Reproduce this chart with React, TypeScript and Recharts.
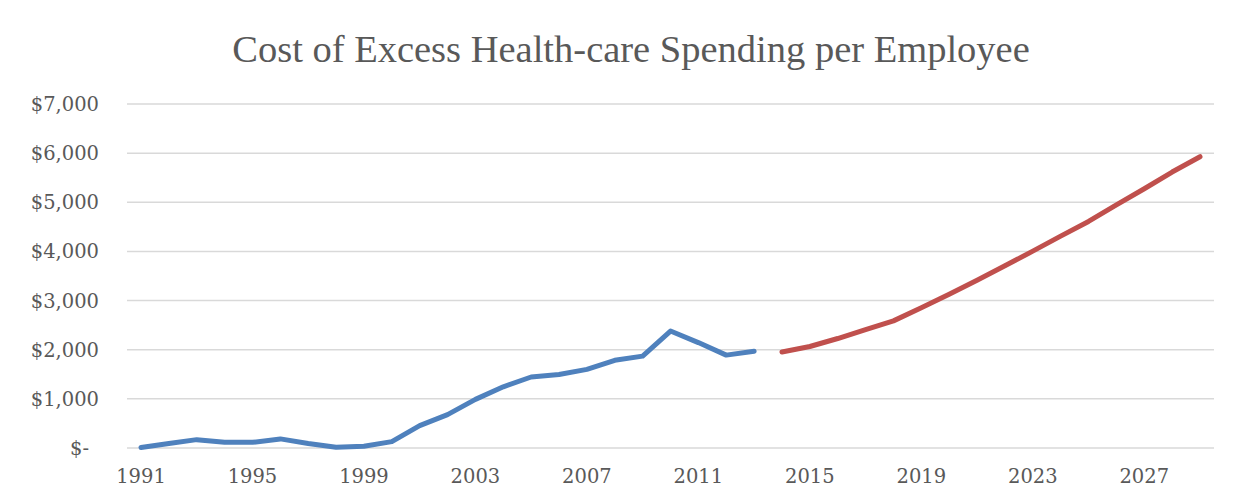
import { CartesianGrid, Line, LineChart, XAxis, YAxis } from "recharts";

// years on the category axis
const years = Array.from({ length: 39 }, (_, i) => String(1991 + i));

// actual spending 1991-2013
const actualValues = [
  10, 90, 170, 115, 115, 185, 90, 15, 35, 130, 455, 680, 990, 1245, 1445,
  1495, 1600, 1785, 1870, 2380, 2145, 1890, 1970,
];

// projected spending 2014-2029
const projectedValues = [
  1955, 2065, 2228, 2411, 2587, 2852, 3130, 3415, 3707, 4006, 4312, 4610,
  4949, 5275, 5615, 5927,
];

const yTicks = [0, 1000, 2000, 3000, 4000, 5000, 6000, 7000];

const data = years.map((year, i) => ({
  year,
  actual: i < actualValues.length ? actualValues[i] : null,
  projected:
    i >= actualValues.length ? projectedValues[i - actualValues.length] : null,
}));

const textColor = "#595959";
const tickFont = "'DejaVu Serif', serif";

const YTick = (props: any) => {
  const { x, y, payload } = props;
  const v = payload.value as number;
  const label = v === 0 ? "$-" : "$" + v.toLocaleString("en-US");
  return (
    <text
      x={v === 0 ? x - 10 : x}
      y={y}
      dy="0.36em"
      textAnchor="end"
      fill={textColor}
      fontFamily={tickFont}
      fontSize={19.5}
    >
      {label}
    </text>
  );
};

export default function App() {
  return (
    <div
      style={{
        position: "relative",
        width: 1250,
        height: 503,
        margin: -8,
        background: "#fff",
        overflow: "hidden",
      }}
    >
      <div
        style={{
          position: "absolute",
          left: 0,
          top: 26,
          width: 1262,
          textAlign: "center",
          fontFamily: "'Liberation Serif', serif",
          fontSize: 38.5,
          color: textColor,
          lineHeight: "46px",
        }}
      >
        Cost of Excess Health-care Spending per Employee
      </div>
      <div style={{ position: "absolute", left: 0, top: 0 }}>
        <LineChart
          width={1250}
          height={503}
          data={data}
          margin={{ top: 104, right: 36, bottom: 25, left: 27 }}
        >
          <CartesianGrid
            vertical={false}
            stroke="#d9d9d9"
            strokeWidth={1.5}
          />
          <XAxis
            dataKey="year"
            height={30}
            interval={3}
            padding={{ left: 14, right: 14 }}
            axisLine={false}
            tickLine={false}
            tickSize={0}
            tickMargin={21}
            tick={{ fill: textColor, fontFamily: tickFont, fontSize: 19.5 }}
          />
          <YAxis
            width={100}
            domain={[0, 7000]}
            ticks={yTicks}
            axisLine={false}
            tickLine={false}
            tickSize={0}
            tickMargin={28}
            tick={<YTick />}
          />
          <Line
            dataKey="actual"
            type="linear"
            stroke="#4f81bd"
            strokeWidth={5}
            strokeLinecap="round"
            strokeLinejoin="round"
            dot={false}
            isAnimationActive={false}
          />
          <Line
            dataKey="projected"
            type="linear"
            stroke="#c0504d"
            strokeWidth={5}
            strokeLinecap="round"
            strokeLinejoin="round"
            dot={false}
            isAnimationActive={false}
          />
        </LineChart>
      </div>
      <div
        style={{
          position: "absolute",
          left: 6,
          top: 6,
          width: 1300,
          height: 600,
          borderLeft: "2px solid #d9d9d9",
          borderTop: "2px solid #d9d9d9",
          pointerEvents: "none",
        }}
      />
    </div>
  );
}
